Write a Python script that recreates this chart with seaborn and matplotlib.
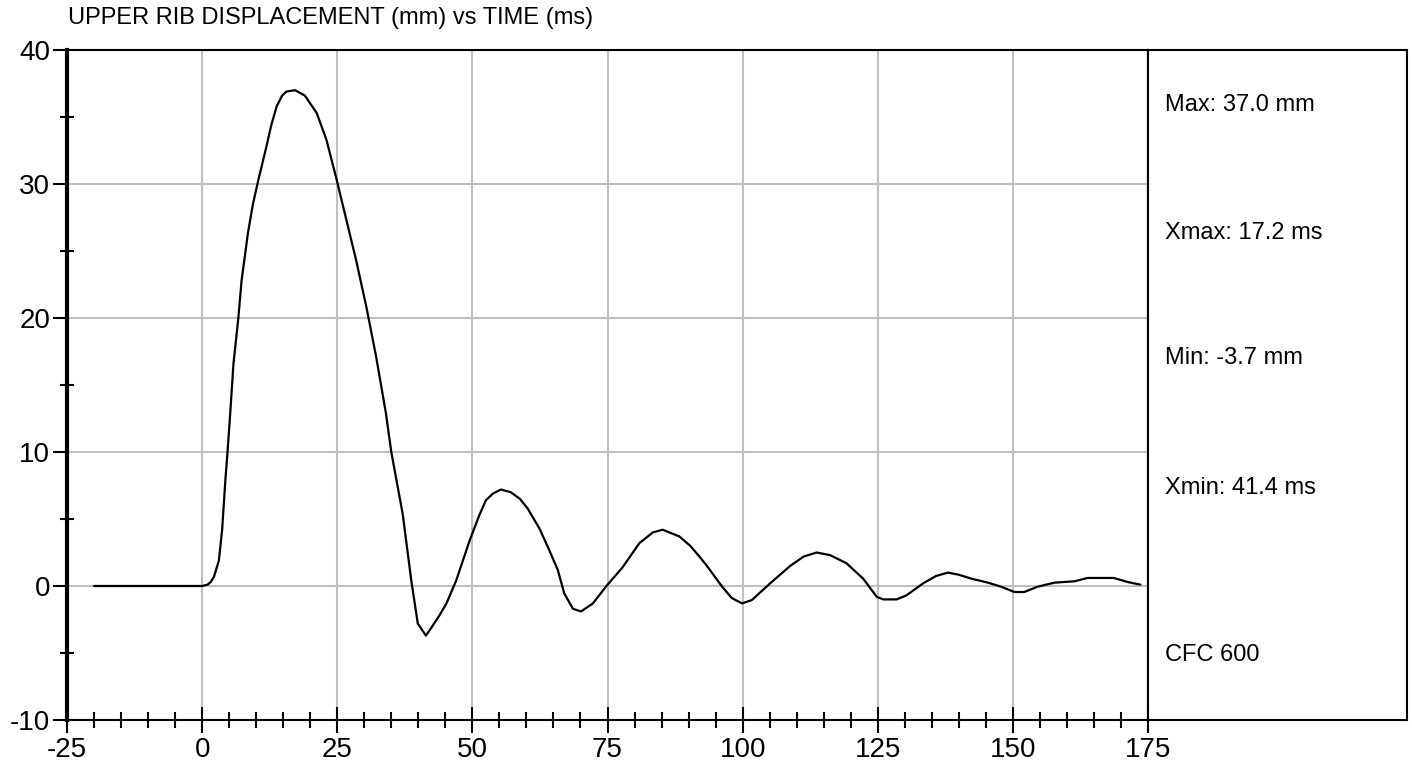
import matplotlib
matplotlib.use("Agg")
import matplotlib.pyplot as plt
from matplotlib import font_manager
from matplotlib.ticker import MultipleLocator
import seaborn as sns
import pandas as pd

time_ms = [-20, 0, 1.0, 1.6, 2.2, 3.1, 3.7, 4.3, 4.7, 5.2, 5.8, 6.7, 7.3, 8.5, 9.4, 10.4,
           11.9, 12.8, 13.8, 14.8, 15.6, 17.2, 19.0, 21.2, 23.0, 24.9, 26.7, 28.5, 30.4,
           32.2, 34.0, 35.0, 37.1, 38.7, 39.9, 41.4, 42.1, 43.9, 45.2, 47.0, 49.5, 51.3,
           52.5, 53.8, 55.3, 57.1, 58.8, 60.2, 62.4, 64.2, 65.8, 67.0, 68.6, 70.1, 72.3,
           74.7, 77.8, 80.9, 83.4, 85.2, 88.3, 90.3, 92.0, 93.4, 96.2, 98.0, 99.9, 101.7,
           105.1, 108.8, 111.3, 113.7, 116.2, 119.2, 122.3, 124.8, 126.0, 128.5, 130.3,
           133.4, 135.8, 138.0, 139.9, 142.3, 145.4, 147.8, 150.3, 152.1, 154.6, 157.7,
           161.4, 163.8, 168.7, 171.2, 173.6]
disp_mm = [0, 0, 0.1, 0.3, 0.7, 1.9, 4.2, 7.9, 10, 12.9, 16.6, 20, 22.8, 26.4, 28.5, 30.3,
           32.8, 34.4, 35.8, 36.6, 36.9, 37.0, 36.6, 35.3, 33.3, 30.3, 27.3, 24.3, 20.8,
           17.1, 12.9, 10, 5.4, 0.4, -2.8, -3.7, -3.3, -2.2, -1.3, 0.4, 3.4, 5.3,
           6.4, 6.9, 7.2, 7.0, 6.5, 5.8, 4.3, 2.7, 1.2, -0.55, -1.7, -1.9, -1.3,
           -0.05, 1.4, 3.2, 4.0, 4.2, 3.7, 3.0, 2.2, 1.5, -0.05, -0.9, -1.3, -1.05,
           0.2, 1.5, 2.2, 2.5, 2.3, 1.7, 0.55, -0.8, -1.0, -1.0, -0.7,
           0.2, 0.75, 1.0, 0.85, 0.55, 0.25, -0.05, -0.45, -0.45, -0.05, 0.25,
           0.35, 0.6, 0.6, 0.3, 0.1]

title = "UPPER RIB DISPLACEMENT (mm) vs TIME (ms)"
stats = ["Max: 37.0 mm", "Xmax: 17.2 ms", "Min: -3.7 mm", "Xmin: 41.4 ms", "CFC 600"]
stats_y = [105, 233, 358, 488, 655]  # pixel rows in the side panel

sns.set_style("white")
plt.rcParams["font.family"] = ["Liberation Sans", "DejaVu Sans"]
plt.rcParams["axes.unicode_minus"] = False
plt.rcParams["text.color"] = "black"

names = {f.name for f in font_manager.fontManager.ttflist}
narrow = "Liberation Sans Narrow" if "Liberation Sans Narrow" in names else "Liberation Sans"

W, H = 1412, 769
fig = plt.figure(figsize=(W / 100, H / 100), dpi=100)
ax = fig.add_axes([67 / W, 1 - 720 / H, (1148 - 67) / W, (720 - 50) / H])

data = pd.DataFrame({"t": time_ms, "d": disp_mm})
sns.lineplot(data=data, x="t", y="d", ax=ax, color="black", linewidth=1.6, sort=False)

ax.set_xlim(-25, 175)
ax.set_ylim(-10, 40)
ax.xaxis.set_major_locator(MultipleLocator(25))
ax.xaxis.set_minor_locator(MultipleLocator(5))
ax.yaxis.set_major_locator(MultipleLocator(10))
ax.yaxis.set_minor_locator(MultipleLocator(5))
ax.grid(True, which="major", color="#c0c0c0", linewidth=1.5)
ax.set_axisbelow(True)

ax.tick_params(which="both", bottom=True, left=True, top=False, right=False,
               color="black", labelcolor="black")
ax.tick_params(axis="x", which="major", direction="inout", length=19, width=1.5,
               labelsize=20, pad=3)
ax.tick_params(axis="x", which="minor", direction="inout", length=11, width=1.5)
ax.tick_params(axis="y", which="major", direction="out", length=10, width=1.5,
               labelsize=20, pad=2)
ax.tick_params(axis="y", which="minor", direction="inout", length=10, width=1.5)
ax.set_xlabel("")
ax.set_ylabel("")

for side, sp in ax.spines.items():
    sp.set_visible(True)
    sp.set_color("black")
    sp.set_linewidth(1.5)
ax.spines["left"].set_linewidth(3)

# side panel with summary values
panel = fig.add_axes([1148 / W, 1 - 720 / H, (1407 - 1148) / W, (720 - 50) / H])
panel.set_xticks([])
panel.set_yticks([])
for sp in panel.spines.values():
    sp.set_visible(True)
    sp.set_color("black")
    sp.set_linewidth(1.5)
for label, yp in zip(stats, stats_y):
    fig.text(1165 / W, 1 - yp / H, label, ha="left", va="center", color="black",
             fontsize=17, family=[narrow, "DejaVu Sans"])

fig.text(68 / W, 1 - 18 / H, title, ha="left", va="center", color="black",
         fontsize=17, family=[narrow, "DejaVu Sans"])

plt.savefig("out.png", dpi=100)
